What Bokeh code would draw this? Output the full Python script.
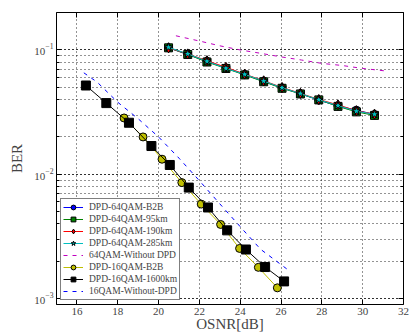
from bokeh.plotting import figure
from bokeh.models import (LogAxis, LinearAxis, FixedTicker, Legend, LegendItem,
                          Range1d, LogTicker)
from bokeh.embed import file_html
from bokeh.resources import INLINE

# ---- data ----
osnr_64 = [20.49, 21.43, 22.37, 23.30, 24.22, 25.15, 26.05, 26.95, 27.85, 28.79, 29.69, 30.58]
ber_64_b2b = [0.104, 0.092, 0.081, 0.0715, 0.0635, 0.0560, 0.0495, 0.0445, 0.0395, 0.0355, 0.0328, 0.0303]
ber_64_95 = [0.104, 0.092, 0.080, 0.0710, 0.0630, 0.0555, 0.0492, 0.0443, 0.0397, 0.0352, 0.0318, 0.0298]
ber_64_190 = [0.104, 0.093, 0.082, 0.0725, 0.0640, 0.0565, 0.0500, 0.0448, 0.0400, 0.0362, 0.0325, 0.0305]
ber_64_285 = [0.105, 0.093, 0.081, 0.0712, 0.0636, 0.0562, 0.0497, 0.0446, 0.0398, 0.0357, 0.0322, 0.0304]

osnr_64_nodpd = [20.85, 22.0, 23.0, 24.0, 25.0, 26.0, 27.0, 28.0, 29.0, 30.0, 31.05]
ber_64_nodpd = [0.130, 0.118, 0.108, 0.100, 0.094, 0.088, 0.083, 0.078, 0.075, 0.071, 0.068]

osnr_16_b2b = [18.31, 19.24, 20.17, 21.14, 22.09, 23.04, 23.97, 24.89, 25.82]
ber_16_b2b = [0.0284, 0.0200, 0.01324, 0.00859, 0.00577, 0.00396, 0.00254, 0.00179, 0.001225]

osnr_16_1600 = [16.44, 17.44, 18.55, 19.65, 20.55, 21.48, 22.42, 23.36, 24.28, 25.22, 26.15]
ber_16_1600 = [0.0518, 0.0374, 0.0260, 0.0169, 0.0119, 0.00783, 0.00542, 0.00355, 0.00249, 0.00180, 0.00138]

osnr_16_nodpd = [16.34, 17.0, 18.0, 19.0, 20.0, 21.0, 22.0, 23.0, 24.0, 25.0, 26.36]
ber_16_nodpd = [0.0655, 0.055, 0.038, 0.028, 0.0200, 0.0135, 0.0089, 0.0058, 0.0038, 0.0025, 0.0017]

x_ticks = [16, 18, 20, 22, 24, 26, 28, 30, 32]

FONT = "Liberation Serif"

p = figure(width=409, height=335, output_backend="svg", toolbar_location=None,
           y_axis_type="log", x_range=Range1d(15, 32), y_range=Range1d(9e-4, 0.2),
           min_border_left=56, min_border_right=6, min_border_top=12, min_border_bottom=31)
p.outline_line_color = "black"
p.outline_line_width = 1

# grid
for g in (p.xgrid, p.ygrid):
    g.grid_line_color = "black"
    g.grid_line_dash = "1 3"
    g.grid_line_alpha = 0.85
p.ygrid.minor_grid_line_color = "black"
p.ygrid.minor_grid_line_dash = "1 3"
p.ygrid.minor_grid_line_alpha = 0.85

# axes
p.xaxis.ticker = FixedTicker(ticks=x_ticks)
for ax in (p.xaxis[0], p.yaxis[0]):
    ax.major_tick_in = 5
    ax.major_tick_out = 0
    ax.minor_tick_in = 3
    ax.minor_tick_out = 0
    ax.axis_line_color = None
    ax.major_label_text_font = FONT
    ax.major_label_text_font_size = "11px"
    ax.axis_label_text_font = FONT
    ax.axis_label_text_font_style = "normal"
    ax.axis_label_text_font_size = "15px"
    ax.major_label_standoff = 3
p.xaxis.axis_label_standoff = -2
p.yaxis.axis_label_standoff = 6
p.xaxis.minor_tick_line_color = None
p.xaxis.axis_label = "OSNR[dB]"
p.yaxis.axis_label = "BER"

top_ax = LinearAxis(ticker=FixedTicker(ticks=x_ticks), major_tick_in=5, major_tick_out=0,
                    minor_tick_line_color=None, major_label_text_font_size="1px",
                    major_label_text_alpha=0, major_label_standoff=0, axis_line_color=None)
right_ax = LogAxis(ticker=LogTicker(), major_tick_in=5, major_tick_out=0, minor_tick_in=3,
                   minor_tick_out=0, major_label_text_font_size="1px",
                   major_label_text_alpha=0, major_label_standoff=0, axis_line_color=None)
p.add_layout(top_ax, "above")
p.add_layout(right_ax, "right")

items = []

def series(x, y, color, marker, label, size):
    r1 = p.line(x, y, line_color=color, line_width=1)
    r2 = p.scatter(x, y, marker=marker, size=size, fill_color=color, line_color="black", line_width=1)
    items.append(LegendItem(label=label, renderers=[r1, r2]))

series(osnr_64, ber_64_b2b, "#0000ff", "circle", "DPD-64QAM-B2B", 8)
series(osnr_64, ber_64_95, "#008000", "square", "DPD-64QAM-95km", 8)
series(osnr_64, ber_64_190, "#ff0000", "diamond", "DPD-64QAM-190km", 10)
series(osnr_64, ber_64_285, "#00bfbf", "star", "DPD-64QAM-285km", 9)
r = p.line(osnr_64_nodpd, ber_64_nodpd, line_color="#bf00bf", line_dash="4 5", line_width=1)
items.append(LegendItem(label="64QAM-Without DPD", renderers=[r]))
series(osnr_16_b2b, ber_16_b2b, "#bfbf00", "circle", "DPD-16QAM-B2B", 8)
series(osnr_16_1600, ber_16_1600, "#000000", "square", "DPD-16QAM-1600km", 9)
r = p.line(osnr_16_nodpd, ber_16_nodpd, line_color="#0000ff", line_dash="4 5", line_width=1)
items.append(LegendItem(label="16QAM-Without-DPD", renderers=[r]))

legend = Legend(items=items, location="bottom_left")
legend.label_text_font = FONT
legend.label_text_font_size = "9.5px"
legend.border_line_color = "black"
legend.border_line_width = 1
legend.background_fill_alpha = 1
legend.glyph_height = 12
legend.glyph_width = 20
legend.label_height = 12
legend.spacing = 0
legend.padding = 2
legend.margin = 4
legend.label_standoff = 6
p.add_layout(legend)

open("out.html", "w").write(file_html(p, INLINE))
